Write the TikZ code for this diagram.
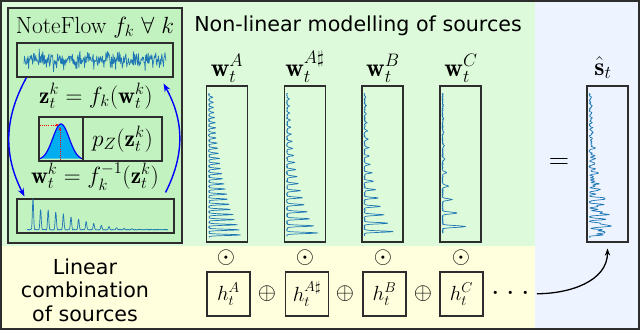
\documentclass[tikz,border=0pt]{standalone}
\usepackage{fix-cm}
\usepackage{amsmath,amssymb}
\usepackage{fontspec}
\newfontfamily\labelsans{DejaVu Sans}
\usetikzlibrary{arrows.meta}

\definecolor{bggreen}{RGB}{221,251,219}
\definecolor{flowgreen}{RGB}{194,242,192}
\definecolor{bgyellow}{RGB}{255,255,222}
\definecolor{bgblue}{RGB}{238,244,255}
\definecolor{edgegray}{RGB}{45,45,45}
\definecolor{specblue}{RGB}{31,119,180}

\newlength\px
\setlength\px{0.3mm}

\begin{document}
\begin{tikzpicture}[x=0.3mm, y=-0.3mm,
  box/.style={draw=edgegray, line width=0.9pt, inner sep=0pt},
  specbox/.style={box, minimum width=41\px, minimum height=156\px},
  coefbox/.style={box, minimum width=43\px, minimum height=44\px, font=\fontsize{17.5}{20}\selectfont},
  spec/.style={specblue, line width=0.6pt, line join=round},
  mathbig/.style={font=\fontsize{20}{24}\selectfont},
  mathmid/.style={font=\fontsize{22}{26}\selectfont},
  sanslabel/.style={font=\labelsans\fontsize{17.6}{20}\selectfont},
  flowarrow/.style={-{Stealth[length=7pt]}, line width=1.2pt, blue}]

  \useasboundingbox (0,0) rectangle (640,330);

  %% Backgrounds
  \fill[bgblue] (0,0) rectangle (640,330);
  \fill[bggreen] (0,0) rectangle (535,246);
  \fill[bgyellow] (0,246) rectangle (535,330);

  %% Left: NoteFlow
  \fill[flowgreen] (8,8) rectangle (182,243);
  \draw[edgegray, line width=0.9pt] (8,8) rectangle (182,243);
  \node[mathbig, anchor=base] (flowtitle) at (95,33) {NoteFlow $f_k\ \forall\ k$};

  % latent noise
  \node[box, minimum width=156\px, minimum height=34\px] (noise) at (95,60) {};
  \draw[spec] plot[domain=24:166, samples=280] (\x, {60+4.4*(rand+rand+rand)});

  \node[mathbig, anchor=base] (zeq) at (96,103) {$\mathbf{z}_t^k = f_k(\mathbf{w}_t^k)$};

  % base density
  \node[box, minimum width=44\px, minimum height=44\px] (gauss) at (61,139) {};
  \node[box, mathbig, minimum width=79\px, minimum height=44\px] (pz) at (122.5,139) {$p_Z(\mathbf{z}_t^k)$};
  \fill[cyan] plot[domain=40:82, samples=60] (\x, {160-36*exp(0-((\x-61)/8.2)^2/2)}) -- cycle;
  \draw[blue, line width=1pt] plot[domain=40:82, samples=60] (\x, {160-36*exp(0-((\x-61)/8.2)^2/2)});
  \draw[red, densely dotted, thick, -{Stealth[length=3pt]}] (40,125) -- (59,125);
  \draw[red, densely dotted, thick, -{Stealth[length=3pt]}] (60,160) -- (60,127);

  \node[mathbig, anchor=base] (weq) at (95,183) {$\mathbf{w}_t^k = f_k^{-1}(\mathbf{z}_t^k)$};

  % harmonic spectrum
  \node[box, minimum width=157\px, minimum height=34\px] (harm) at (95.5,216) {};
  \draw[spec] plot[domain=27:168, samples=400]
    (\x, {230-(21*exp(0-((\x-33)/55)^2)+10*exp(0-min(20,((\x-33)/3)^2)))*(0.5+0.5*cos(47.37*(\x-33))+0.001)^8-0.6*rnd});

  % flow directions
  \draw[flowarrow] ([xshift=3mm]noise.south west) to[bend right=28] ([xshift=2.4mm, yshift=0.6mm]harm.north west);
  \draw[flowarrow] ([xshift=-2.7mm, yshift=1.8mm]harm.north east) to[bend right=28] ([xshift=-3mm, yshift=-1.8mm]noise.south east);

  %% Center: sources
  \node[sanslabel, anchor=base] (title) at (358,31) {Non-linear modelling of sources};

  \node[mathmid, anchor=base] (labA) at (227,76) {$\mathbf{w}_t^{A}$};
  \node[mathmid, anchor=base] (labAs) at (305,76) {$\mathbf{w}_t^{A\sharp}$};
  \node[mathmid, anchor=base] (labB) at (383,76) {$\mathbf{w}_t^{B}$};
  \node[mathmid, anchor=base] (labC) at (461,76) {$\mathbf{w}_t^{C}$};

  \node[specbox] (wA) at (227,164) {};
  \node[specbox] (wAs) at (305,164) {};
  \node[specbox] (wB) at (382.5,164) {};
  \node[specbox] (wC) at (460.5,164) {};

  \draw[spec] plot[variable=\u, domain=0.017:0.98, samples=420]
    ({208.5+1.2*rnd+35*exp(-2.3*\u)*(0.5+0.5*cos(360*\u/0.034)+0.001)^4}, {240-150*\u});
  \draw[spec] plot[variable=\u, domain=0.024:0.98, samples=420]
    ({286.5+1.2*rnd+35*exp(-3*\u)*(0.5+0.5*cos(360*\u/0.047)+0.001)^6}, {240-150*\u});
  \draw[spec] plot[variable=\u, domain=0.028:0.98, samples=420]
    ({364+1.2*rnd+35*exp(-3.5*\u)*(0.5+0.5*cos(360*\u/0.056)+0.001)^8}, {240-150*\u});
  \draw[spec] plot[variable=\u, domain=0.045:0.98, samples=420]
    ({442+1.2*rnd+35*exp(-5*\u)*(0.5+0.5*cos(360*\u/0.09)+0.001)^12}, {240-150*\u});

  %% Bottom: activations
  \node[sanslabel, align=center] (lincomb) at (85,290) {Linear\\combination\\of sources};

  \node[mathbig] (odA) at (226,258) {$\odot$};
  \node[mathbig] (odAs) at (305,258) {$\odot$};
  \node[mathbig] (odB) at (383,258) {$\odot$};
  \node[mathbig] (odC) at (461,258) {$\odot$};

  \node[coefbox] (hA) at (228.5,294) {$h_t^{A}$};
  \node[coefbox] (hAs) at (307,294) {$h_t^{A\sharp}$};
  \node[coefbox] (hB) at (384.5,294) {$h_t^{B}$};
  \node[coefbox] (hC) at (461.5,294) {$h_t^{C}$};

  \node[mathbig] (plA) at (267,294) {$\oplus$};
  \node[mathbig] (plB) at (345,294) {$\oplus$};
  \node[mathbig] (plC) at (423,294) {$\oplus$};

  \node[font=\fontsize{26}{28}\selectfont, anchor=base, inner sep=1pt] (dots) at (511,300.5) {${\cdot}\mkern4mu{\cdot}\mkern4mu{\cdot}$};

  %% Right: mixture
  \node[font=\fontsize{24}{28}\selectfont] (equals) at (559,163) {$=$};
  \node[mathmid, anchor=base] (labS) at (603,75) {$\hat{\mathbf{s}}_t$};
  \node[specbox] (shat) at (607.5,164) {};
  \draw[spec] plot[variable=\u, domain=0.017:0.98, samples=500]
    ({589+1.2*rnd+34*exp(-3*\u)*min(1,0.45*((0.5+0.5*cos(360*\u/0.034))^4+(0.5+0.5*cos(360*\u/0.047))^6+(0.5+0.5*cos(360*\u/0.056))^8+(0.5+0.5*cos(360*\u/0.09))^12+0.001))}, {240-150*\u});

  \draw[-{Stealth[length=6pt]}, line width=1.1pt, black] ([xshift=1.5mm]dots.east) to[out=0, in=-90] ([yshift=-1.8mm]shat.south);

  % outer frame
  \draw[edgegray, line width=0.6mm] (1,1) rectangle (639,329);

\end{tikzpicture}
\end{document}
